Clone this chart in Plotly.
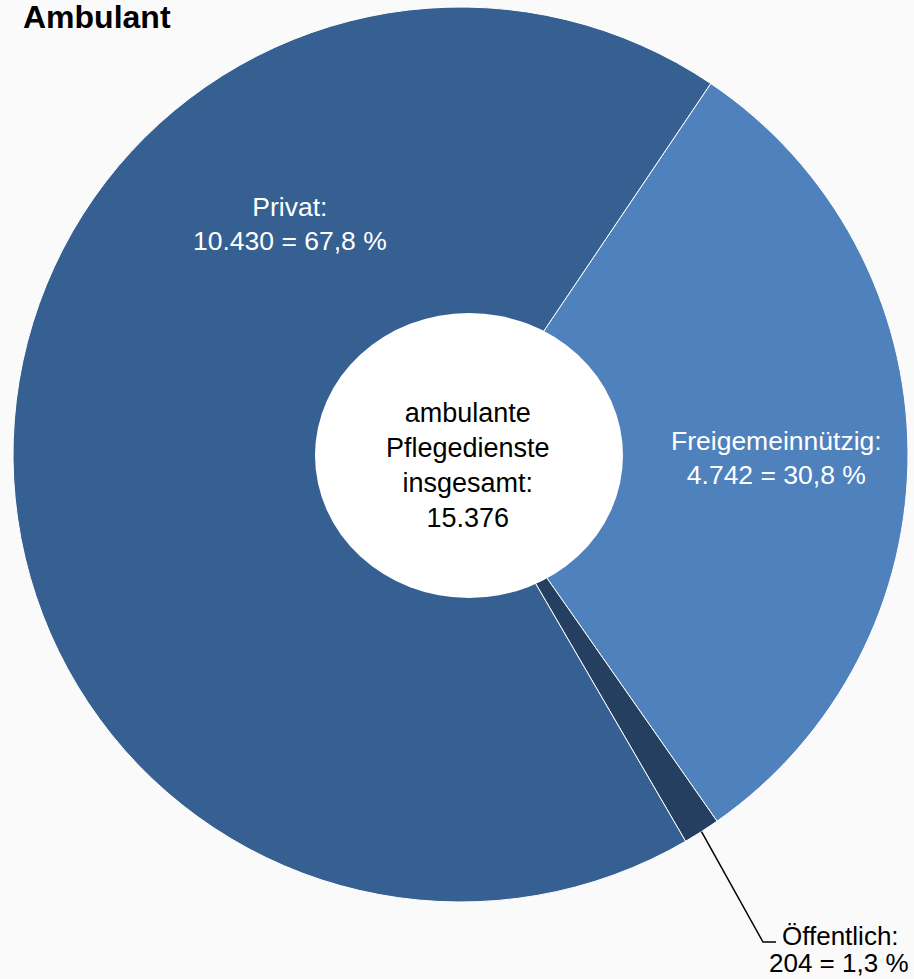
import math
import plotly.graph_objects as go

# ---- data ----
categories = ["Freigemeinnützig", "Öffentlich", "Privat"]
values = [4742, 204, 10430]
percent_labels = ["30,8 %", "1,3 %", "67,8 %"]
value_labels = ["4.742", "204", "10.430"]
total_label = "15.376"
title_text = "Ambulant"
center_lines = ["ambulante", "Pflegedienste", "insgesamt:", total_label]

colors = ["#4f81bd", "#243f60", "#366092"]
BG = "#fafafa"
FONT = "Liberation Sans, Arial, sans-serif"

W, H = 914, 979
ROTATION = 34


def px(x):
    return x / W


def py(y):
    return 1 - y / H


# pie geometry in pixels
cx, cy, r = 460.5, 454.5, 447.5

fig = go.Figure()
fig.add_trace(go.Pie(
    labels=categories,
    values=values,
    sort=False,
    direction="clockwise",
    rotation=ROTATION,
    textinfo="none",
    hoverinfo="label+value+percent",
    marker=dict(colors=colors, line=dict(color="white", width=1)),
    domain=dict(x=[px(cx - r), px(cx + r)], y=[py(cy + r), py(cy - r)]),
    showlegend=False,
))

annotations = []
# title
annotations.append(dict(text="<b>" + title_text + "</b>", x=px(21), y=py(17),
                        xref="paper", yref="paper", xanchor="left", yanchor="middle",
                        showarrow=False, font=dict(family=FONT, size=32, color="black")))
# inside labels
annotations.append(dict(text=f"{categories[2]}:<br>{value_labels[2]} = {percent_labels[2]}",
                        x=px(290), y=py(224), xref="paper", yref="paper",
                        xanchor="center", yanchor="middle", showarrow=False,
                        font=dict(family=FONT, size=26.5, color="white")))
annotations.append(dict(text=f"{categories[0]}:<br>{value_labels[0]} = {percent_labels[0]}",
                        x=px(776), y=py(458), xref="paper", yref="paper",
                        xanchor="center", yanchor="middle", showarrow=False,
                        font=dict(family=FONT, size=26.5, color="white")))
# center
annotations.append(dict(text="<br>".join(center_lines),
                        x=px(468), y=py(466), xref="paper", yref="paper",
                        xanchor="center", yanchor="middle", showarrow=False,
                        font=dict(family=FONT, size=27, color="black")))
# outside label (Öffentlich)
annotations.append(dict(text=f"{categories[1]}:", x=px(840), y=py(936),
                        xref="paper", yref="paper", xanchor="center", yanchor="middle",
                        showarrow=False, font=dict(family=FONT, size=26, color="black")))
annotations.append(dict(text=f"{value_labels[1]} = {percent_labels[1]}", x=px(839), y=py(963),
                        xref="paper", yref="paper", xanchor="center", yanchor="middle",
                        showarrow=False, font=dict(family=FONT, size=26, color="black")))

# leader line start: mid-angle of the Öffentlich slice on the outer edge
total = sum(values)
mid_angle = math.radians(ROTATION + 360 * (values[0] + values[1] / 2) / total)
sx = cx + r * math.sin(mid_angle)
sy = cy - r * math.cos(mid_angle)

shapes = [
    dict(type="circle", xref="paper", yref="paper",
         x0=px(315), x1=px(623), y0=py(598), y1=py(313),
         fillcolor="white", line=dict(width=0), layer="above"),
    dict(type="path", xref="paper", yref="paper",
         path=f"M {px(sx)} {py(sy)} L {px(763)} {py(942)} L {px(776)} {py(942)}",
         line=dict(color="black", width=1.5), layer="above"),
]

fig.update_layout(
    width=W, height=H,
    margin=dict(l=0, r=0, t=0, b=0),
    paper_bgcolor=BG, plot_bgcolor=BG,
    annotations=annotations,
    shapes=shapes,
)

fig.write_html(
    "out.html",
    config={"displayModeBar": False},
    post_script="document.body.style.margin='0';document.body.style.background='#fafafa';document.body.style.overflow='hidden';",
)
